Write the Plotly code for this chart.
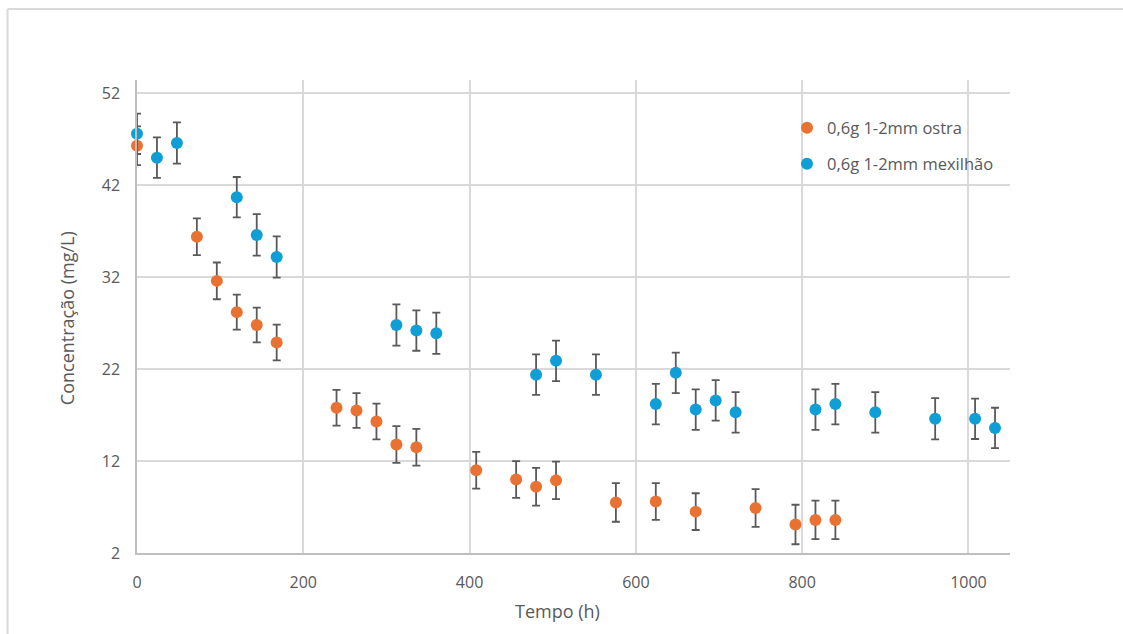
import plotly.graph_objects as go

# --- data ---
ostra_t = [0, 72, 96, 120, 144, 168, 240, 264, 288, 312, 336, 408, 456, 480, 504,
           576, 624, 672, 744, 792, 816, 840]
ostra_c = [46.3, 36.4, 31.6, 28.2, 26.8, 24.9, 17.8, 17.5, 16.3, 13.8, 13.5, 11.0, 10.0, 9.2, 9.9,
           7.5, 7.6, 6.5, 6.9, 5.1, 5.6, 5.6]
ostra_err = [2.1, 2.0, 2.0, 1.9, 1.9, 1.95, 1.95, 1.9, 1.95, 2.0, 2.0, 2.0, 2.0, 2.05, 2.05,
             2.1, 2.0, 2.0, 2.05, 2.15, 2.1, 2.1]

mex_t = [0, 24, 48, 120, 144, 168, 312, 336, 360, 480, 504, 552, 624, 648, 672, 696, 720,
         816, 840, 888, 960, 1008, 1032]
mex_c = [47.6, 45.0, 46.6, 40.7, 36.6, 34.2, 26.8, 26.2, 25.9, 21.4, 22.9, 21.4, 18.2, 21.6,
         17.6, 18.6, 17.3, 17.6, 18.2, 17.3, 16.6, 16.6, 15.6]
mex_err = [2.2, 2.2, 2.25, 2.2, 2.25, 2.25, 2.25, 2.2, 2.25, 2.2, 2.2, 2.2, 2.2, 2.2, 2.2, 2.2,
           2.2, 2.2, 2.2, 2.2, 2.25, 2.2, 2.2]

series_names = ["0,6g 1-2mm ostra", "0,6g 1-2mm mexilhão"]
x_title = "Tempo (h)"
y_title = "Concentração (mg/L)"
y_ticks = [2, 12, 22, 32, 42, 52]
x_ticks = [0, 200, 400, 600, 800, 1000]

ORANGE = "#E97132"
BLUE = "#0F9ED5"
TXT = "#595959"
GRID = "#D9D9D9"
FONT = "Open Sans"

fig = go.Figure()
for name, t, c, e, col, grp in [
    (series_names[0], ostra_t, ostra_c, ostra_err, ORANGE, "a"),
    (series_names[1], mex_t, mex_c, mex_err, BLUE, "b"),
]:
    fig.add_trace(go.Scatter(
        x=t, y=c, name=name, mode="markers", legendgroup=grp,
        marker=dict(color=col, size=12, line=dict(width=0)),
        error_y=dict(type="data", array=e, visible=True, color="#595959",
                     thickness=1.8, width=4),
        cliponaxis=False,
    ))

L, R, T, B = 137, 1010, 80, 552.7
W, H = 1123, 634

def px2paper_x(px):
    return (px - L) / (R - L)

def px2paper_y(py):
    return (B - py) / (B - T)

fig.update_layout(
    width=W, height=H,
    margin=dict(l=L, r=W - R, t=T, b=H - B, pad=0),
    paper_bgcolor="white", plot_bgcolor="white",
    font=dict(family=FONT, size=16, color=TXT),
    showlegend=True,
    legend=dict(
        x=px2paper_x(787), y=px2paper_y(110.5), xanchor="left", yanchor="top",
        bgcolor="rgba(0,0,0,0)", borderwidth=0,
        font=dict(family=FONT, size=16.5, color=TXT),
        tracegroupgap=11.5, traceorder="grouped", itemsizing="constant",
    ),
    xaxis=dict(
        range=[0, 1050], tickvals=x_ticks, showgrid=True, gridcolor=GRID, gridwidth=1.5,
        zeroline=False, showline=True, linecolor="#BFBFBF", linewidth=1.5,
        ticks="", ticklabelstandoff=14, tickfont=dict(size=16, color=TXT),
    ),
    yaxis=dict(
        range=[2, 53.45], tickvals=y_ticks, showgrid=True, gridcolor=GRID, gridwidth=1.5,
        zeroline=False, showline=True, linecolor="#BFBFBF", linewidth=1.5,
        ticks="", ticklabelstandoff=12, tickfont=dict(size=16, color=TXT),
    ),
    annotations=[
        dict(text=x_title, xref="paper", yref="paper", x=px2paper_x(557), y=px2paper_y(611),
             xanchor="center", yanchor="middle", showarrow=False,
             font=dict(family=FONT, size=18, color=TXT)),
        dict(text=y_title, xref="paper", yref="paper", x=px2paper_x(67), y=px2paper_y(318),
             xanchor="center", yanchor="middle", showarrow=False, textangle=-90,
             font=dict(family=FONT, size=18, color=TXT)),
    ],
    shapes=[
        dict(type="line", xref="paper", yref="paper", x0=px2paper_x(7.5), x1=px2paper_x(1123),
             y0=px2paper_y(9), y1=px2paper_y(9), line=dict(color=GRID, width=2)),
        dict(type="line", xref="paper", yref="paper", x0=px2paper_x(7.5), x1=px2paper_x(7.5),
             y0=px2paper_y(9), y1=px2paper_y(634), line=dict(color=GRID, width=2)),
    ],
)

fig.write_html("out.html")
